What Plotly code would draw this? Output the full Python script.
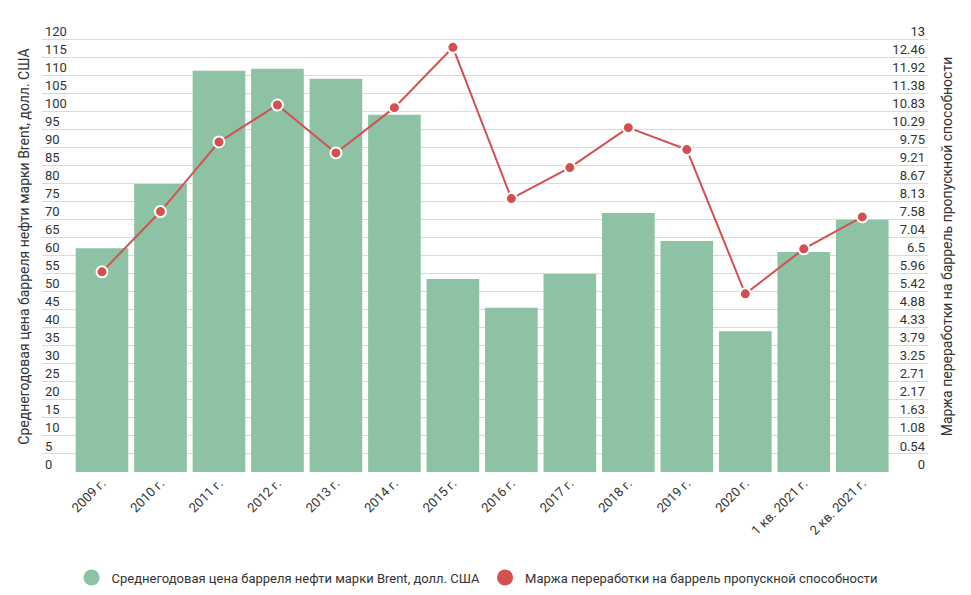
import plotly.graph_objects as go

categories = ["2009 г.", "2010 г.", "2011 г.", "2012 г.", "2013 г.", "2014 г.", "2015 г.",
              "2016 г.", "2017 г.", "2018 г.", "2019 г.", "2020 г.", "1 кв. 2021 г.", "2 кв. 2021 г."]
brent_price = [62.0, 79.8, 111.2, 111.8, 109.0, 99.0, 53.5, 45.5, 54.9, 71.8, 64.0, 39.0, 61.0, 69.9]
refining_margin = [6.01, 7.82, 9.91, 11.02, 9.58, 10.94, 12.75, 8.21, 9.14, 10.34, 9.68, 5.35, 6.70, 7.66]

left_ticks = list(range(0, 121, 5))
right_tickvals = [i * 13 / 24 for i in range(25)]
right_ticktext = ["0", "0.54", "1.08", "1.63", "2.17", "2.71", "3.25", "3.79", "4.33", "4.88",
                  "5.42", "5.96", "6.5", "7.04", "7.58", "8.13", "8.67", "9.21", "9.75", "10.29",
                  "10.83", "11.38", "11.92", "12.46", "13"]

name_bar = "Среднегодовая цена барреля нефти марки Brent, долл. США"
name_line = "Маржа переработки на баррель пропускной способности"

GREEN = "#8DC2A5"
RED = "#D45050"
TXT = "#333333"

LEFT_MAX = 120
TOP_PAD = 5  # extra headroom (in left-axis units) so the top tick label stays visible
RIGHT_MAX = 13

fig = go.Figure()
fig.add_trace(go.Bar(x=list(range(len(categories))), y=brent_price, marker=dict(color=GREEN, line=dict(width=0)),
                     name=name_bar, showlegend=False, yaxis="y"))
fig.add_trace(go.Scatter(x=list(range(len(categories))), y=refining_margin, mode="lines+markers",
                         line=dict(color=RED, width=2),
                         marker=dict(color=RED, size=11, line=dict(color="white", width=2)),
                         name=name_line, showlegend=False, yaxis="y2"))
# legend entries (circle symbols)
fig.add_trace(go.Scatter(x=[None], y=[None], mode="markers", marker=dict(color=GREEN, size=16),
                         name=name_bar, showlegend=True))
fig.add_trace(go.Scatter(x=[None], y=[None], mode="markers", marker=dict(color=RED, size=16),
                         name=name_line, showlegend=True))

fig.update_layout(
    width=963, height=587,
    margin=dict(l=34, r=43, t=13, b=123, autoexpand=False),
    paper_bgcolor="white", plot_bgcolor="white",
    font=dict(family="Roboto", size=13, color=TXT),
    bargap=0.1,
    xaxis=dict(
        range=[-1.026, 14.124], automargin=False,
        tickmode="array", tickvals=list(range(len(categories))), ticktext=categories,
        tickangle=-45, showgrid=False, zeroline=False, showline=False, ticks="",
        tickfont=dict(size=13, color=TXT),
    ),
    yaxis=dict(
        range=[0, LEFT_MAX + TOP_PAD], tickvals=left_ticks, showgrid=True, gridcolor="#DADADA", gridwidth=1,
        zeroline=False, showline=False, ticks="", automargin=False,
        ticklabelposition="inside", ticklabelshift=-8, ticklabelstandoff=0,
        tickfont=dict(size=13, color=TXT),
        title=dict(text=name_bar, font=dict(size=14, color=TXT), standoff=12),
    ),
    yaxis2=dict(
        range=[0, RIGHT_MAX * (LEFT_MAX + TOP_PAD) / LEFT_MAX], tickmode="array",
        tickvals=right_tickvals, ticktext=right_ticktext,
        overlaying="y", side="right", showgrid=False, zeroline=False, showline=False, ticks="",
        automargin=False,
        ticklabelposition="inside", ticklabelshift=-8, ticklabelstandoff=0,
        tickfont=dict(size=13, color=TXT),
        title=dict(text=name_line, font=dict(size=14, color=TXT), standoff=17),
    ),
    legend=dict(orientation="h", x=0.491, xanchor="center", y=-0.234, yanchor="middle",
                font=dict(size=13, color=TXT), itemsizing="trace"),
)

fig.write_html("out.html")
